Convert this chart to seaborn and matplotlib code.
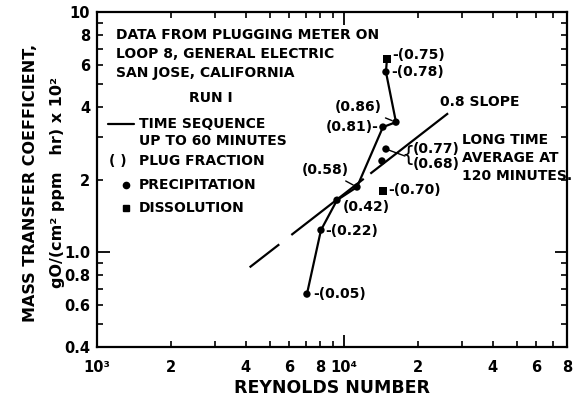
import matplotlib
matplotlib.use("Agg")
import matplotlib.pyplot as plt
import pandas as pd
import seaborn as sns
from matplotlib.ticker import FixedLocator, FixedFormatter

# Run 1 time sequence (up to 60 minutes): Reynolds number, mass transfer coefficient, plug fraction
seq_re = [7080, 8070, 9370, 11290, 14380, 16240, 14790, 14930]
seq_k = [0.665, 1.23, 1.64, 1.86, 3.31, 3.47, 5.62, 6.37]
seq_frac = ["0.05", "0.22", "0.42", "0.58", "0.81", "0.86", "0.78", "0.75"]
seq_kind = ["precipitation"] * 7 + ["dissolution"]

# Long time average at 120 minutes
avg_re = [14790, 14250, 14380]
avg_k = [2.68, 2.39, 1.79]
avg_frac = ["0.77", "0.68", "0.70"]
avg_kind = ["precipitation", "precipitation", "dissolution"]

# Reference line of slope 0.8 on log-log axes
slope_re = [4150, 26400]
slope_exp = 0.8
slope_k_start = 0.86

# Axis ticks
x_major = [1e3, 1e4]
x_major_labels = ["10³", "10⁴"]
x_minor = [2e3, 3e3, 4e3, 5e3, 6e3, 7e3, 8e3, 9e3,
           2e4, 3e4, 4e4, 5e4, 6e4, 7e4, 8e4]
x_minor_labels = ["2", "", "4", "", "6", "", "8", "",
                  "2", "", "4", "", "6", "", "8"]
y_major = [1.0, 10.0]
y_major_labels = ["1.0", "10"]
y_minor = [0.4, 0.5, 0.6, 0.7, 0.8, 0.9, 2, 3, 4, 5, 6, 7, 8, 9]
y_minor_labels = ["0.4", "", "0.6", "", "0.8", "",
                  "2", "", "4", "", "6", "", "8", ""]

sns.set_theme(style="ticks")
plt.rcParams["font.family"] = ["DejaVu Sans"]
plt.rcParams["font.weight"] = "bold"
plt.rcParams["lines.scale_dashes"] = False

W, H = 577, 397
fig = plt.figure(figsize=(W / 100, H / 100), dpi=100)
ax = fig.add_axes([97 / W, 1 - 347 / H, 470 / W, 335 / H])
ax.set_xscale("log")
ax.set_yscale("log")
ax.set_xlim(1e3, 8e4)
ax.set_ylim(0.4, 10)

ink = "black"

seq = pd.DataFrame({"re": seq_re, "k": seq_k, "frac": seq_frac, "kind": seq_kind})
avg = pd.DataFrame({"re": avg_re, "k": avg_k, "frac": avg_frac, "kind": avg_kind})
pts = pd.concat([seq, avg], ignore_index=True)

# Time sequence line
sns.lineplot(data=seq, x="re", y="k", sort=False, color=ink, lw=1.6, ax=ax,
             estimator=None, legend=False)

# 0.8 slope reference line
slope_k = [slope_k_start * (r / slope_re[0]) ** slope_exp for r in slope_re]
ax.plot(slope_re, slope_k, color=ink, lw=1.6, solid_capstyle="butt",
        dashes=(27, 11, 66, 6, 200, 1))

# Markers: dots for precipitation, squares for dissolution
sns.scatterplot(data=pts, x="re", y="k", style="kind",
                markers={"precipitation": "o", "dissolution": "s"},
                color=ink, s=28, edgecolor=ink, linewidth=0, ax=ax,
                legend=False, zorder=5)

# Plug fraction labels next to each point
fs = 10
def px2pt(dx, dy):
    return (dx * 0.72, -dy * 0.72)

label_style = {
    "0.05": ("-({})", 6, 0, "left", False),
    "0.22": ("-({})", 4, 1, "left", False),
    "0.42": ("({})", 6, 7, "left", False),
    "0.58": ("({})", -8, -17, "right", True),
    "0.81": ("({})-", -4, 0, "right", False),
    "0.86": ("({})", -14, -15, "right", True),
    "0.78": ("-({})", 5, 0, "left", False),
    "0.75": ("-({})", 5, -4, "left", False),
    "0.70": ("-({})", 5, -1, "left", False),
    "0.77": ("({})", 27, 0, "left", False),
    "0.68": ("({})", 31, 3, "left", False),
}
for r, k, f in zip(pts["re"], pts["k"], pts["frac"]):
    fmt, dx, dy, ha, leader = label_style[f]
    ax.annotate(fmt.format(f), xy=(r, k), xytext=px2pt(dx, dy),
                textcoords="offset points", ha=ha, va="center",
                fontsize=fs, fontweight="bold", color=ink,
                arrowprops=dict(arrowstyle="-", color=ink, lw=1.0,
                                shrinkA=1, shrinkB=3) if leader else None)

# Leader and brace grouping the two long-time precipitation points
ax.annotate("", xy=(avg_re[0], avg_k[0]), xytext=px2pt(19, 7),
            textcoords="offset points",
            arrowprops=dict(arrowstyle="-", color=ink, lw=1.0, shrinkA=0, shrinkB=2))
ax.annotate("{", xy=(avg_re[0], avg_k[0]), xytext=px2pt(22, 6),
            textcoords="offset points", ha="center", va="center",
            fontsize=15, fontweight="normal", color=ink)

def fig_xy(x, y):
    return (x / W, 1 - y / H)

# Explanatory text block
for txt, y in [("DATA FROM PLUGGING METER ON", 35),
               ("LOOP 8, GENERAL ELECTRIC", 54),
               ("SAN JOSE, CALIFORNIA", 73)]:
    fig.text(*fig_xy(116, y), txt, ha="left", va="center", fontsize=fs,
             fontweight="bold", color=ink)
fig.text(*fig_xy(211, 98), "RUN I", ha="center", va="center", fontsize=fs,
         fontweight="bold", color=ink)
fig.add_artist(plt.Line2D([108 / W, 134 / W], [1 - 124 / H, 1 - 124 / H],
                          color=ink, lw=1.6))
fig.text(*fig_xy(139, 124), "TIME SEQUENCE", ha="left", va="center",
         fontsize=fs, fontweight="bold", color=ink)
fig.text(*fig_xy(139, 141), "UP TO 60 MINUTES", ha="left", va="center",
         fontsize=fs, fontweight="bold", color=ink)
fig.text(*fig_xy(109, 161), "( )", ha="left", va="center",
         fontsize=fs, fontweight="bold", color=ink)
fig.text(*fig_xy(139, 161), "PLUG FRACTION", ha="left", va="center",
         fontsize=fs, fontweight="bold", color=ink)
fig.add_artist(plt.Line2D([126 / W], [1 - 185 / H], marker="o", ms=4.5,
                          color=ink, lw=0))
fig.text(*fig_xy(139, 185), "PRECIPITATION", ha="left", va="center",
         fontsize=fs, fontweight="bold", color=ink)
fig.add_artist(plt.Line2D([126 / W], [1 - 208 / H], marker="s", ms=4.5,
                          color=ink, lw=0))
fig.text(*fig_xy(139, 208), "DISSOLUTION", ha="left", va="center",
         fontsize=fs, fontweight="bold", color=ink)

fig.text(*fig_xy(440, 102), "0.8 SLOPE", ha="left", va="center",
         fontsize=fs, fontweight="bold", color=ink)
for txt, y in [("LONG TIME", 140), ("AVERAGE AT", 158), ("120 MINUTES.", 176)]:
    fig.text(*fig_xy(462, y), txt, ha="left", va="center", fontsize=fs,
             fontweight="bold", color=ink)

# Axes, ticks and labels
ax.xaxis.set_major_locator(FixedLocator(x_major))
ax.xaxis.set_major_formatter(FixedFormatter(x_major_labels))
ax.xaxis.set_minor_locator(FixedLocator(x_minor))
ax.xaxis.set_minor_formatter(FixedFormatter(x_minor_labels))
ax.yaxis.set_major_locator(FixedLocator(y_major))
ax.yaxis.set_major_formatter(FixedFormatter(y_major_labels))
ax.yaxis.set_minor_locator(FixedLocator(y_minor))
ax.yaxis.set_minor_formatter(FixedFormatter(y_minor_labels))

ax.tick_params(which="both", direction="in", top=True, right=True,
               color=ink, labelcolor=ink, labelsize=10.5)
ax.tick_params(which="major", length=9, width=1.3)
ax.tick_params(which="minor", length=4, width=1.2)
ax.tick_params(axis="x", which="both", pad=9)
ax.tick_params(axis="y", which="both", pad=5)
for lab in ax.get_xticklabels(which="both") + ax.get_yticklabels(which="both"):
    lab.set_fontweight("bold")
for sp in ax.spines.values():
    sp.set_linewidth(1.6)
    sp.set_color(ink)

ax.set_xlabel("REYNOLDS NUMBER", fontsize=12.5, fontweight="bold", color=ink,
              labelpad=3)
ax.set_ylabel("MASS TRANSFER COEFFICIENT,\ngO/(cm² ppm   hr) x 10²",
              fontsize=11.5, fontweight="bold", color=ink,
              linespacing=1.95, va="center")
ax.yaxis.set_label_coords((44 - 97) / 470, 0.49)

fig.savefig("out.png", dpi=100)
